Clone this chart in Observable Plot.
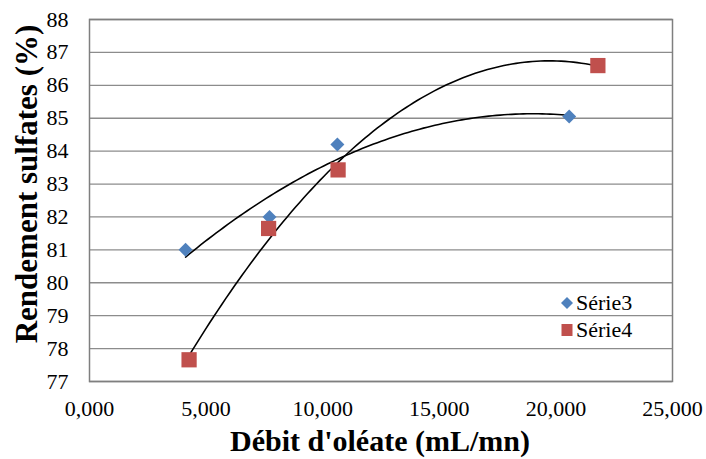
<!DOCTYPE html>
<html>
<head>
<meta charset="utf-8">
<script src="https://cdn.jsdelivr.net/npm/d3@7"></script>
<script src="https://cdn.jsdelivr.net/npm/@observablehq/plot@0.6"></script>
<style>
  html, body { margin: 0; padding: 0; background: #fff; }
  #wrap { position: relative; width: 706px; height: 459px; }
  .title { position: absolute; font-weight: bold; color: #000; white-space: nowrap; line-height: 1; }
  #xtitle { font-size: 30px; left: 0; width: 760px; text-align: center; top: 426px; }
  #ytitle { font-size: 31px; left: 26px; top: 184px; transform: translate(-50%, -50%) rotate(-90deg); }
  #legend { position: absolute; left: 560px; top: 289px; font-size: 22px; color: #000; }
  #legend div { display: flex; align-items: center; height: 27px; }
  #legend svg { margin-right: 2px; }
</style>
</head>
<body style="font-family:'Liberation Serif'">
<div id="wrap" style="font-family:'Liberation Serif'"></div>
<script>
// Data (x in thousands of mL/mn, French decimal comma)
const seriesNames = ["Série3", "Série4"];
const serie3X = [4.12, 7.72, 10.63, 20.57];
const serie3Y = [81.0, 82.0, 84.2, 85.05];
const serie4X = [4.27, 7.68, 10.66, 21.8];
const serie4Y = [77.66, 81.65, 83.43, 86.6];
const xTicks = [0, 5, 10, 15, 20, 25];
const xTickLabels = ["0,000", "5,000", "10,000", "15,000", "20,000", "25,000"];
const yTicks = [77, 78, 79, 80, 81, 82, 83, 84, 85, 86, 87, 88];
const xTitle = "Débit d'oléate (mL/mn)";
const yTitle = "Rendement sulfates (%)";
const colors = ["#4F81BD", "#C0504D"];
const FONT = "'Liberation Serif'";

const points = [
  ...serie3X.map((x, i) => ({series: seriesNames[0], x, y: serie3Y[i]})),
  ...serie4X.map((x, i) => ({series: seriesNames[1], x, y: serie4Y[i]}))
];

// Polynomial (order 2) trendline, least squares, as in the spreadsheet
function quadFit(xs, ys) {
  const n = xs.length;
  let s = [0,0,0,0,0], t = [0,0,0];
  for (let i = 0; i < n; i++) {
    const x = xs[i], y = ys[i];
    for (let k = 0; k < 5; k++) s[k] += x ** k;
    for (let k = 0; k < 3; k++) t[k] += y * x ** k;
  }
  const A = [[s[0], s[1], s[2], t[0]], [s[1], s[2], s[3], t[1]], [s[2], s[3], s[4], t[2]]];
  for (let c = 0; c < 3; c++) {
    for (let r = c + 1; r < 3; r++) {
      const f = A[r][c] / A[c][c];
      for (let k = c; k < 4; k++) A[r][k] -= f * A[c][k];
    }
  }
  const b = [0,0,0];
  for (let r = 2; r >= 0; r--) {
    let v = A[r][3];
    for (let k = r + 1; k < 3; k++) v -= A[r][k] * b[k];
    b[r] = v / A[r][r];
  }
  return x => b[0] + b[1] * x + b[2] * x * x;
}
function trend(name, xs, ys) {
  const f = quadFit(xs, ys);
  const [lo, hi] = d3.extent(xs);
  return d3.range(0, 101).map(i => { const x = lo + (hi - lo) * i / 100; return {series: name, x, y: f(x)}; });
}
const trendData = [...trend(seriesNames[0], serie3X, serie3Y), ...trend(seriesNames[1], serie4X, serie4Y)];

const chart = Plot.plot({
  width: 706,
  height: 459,
  marginLeft: 89,
  marginRight: 34,
  marginTop: 19,
  marginBottom: 78,
  style: {fontFamily: "Liberation Serif", fontSize: "22px", color: "#000", background: "#fff"},
  x: {domain: [0, 25], ticks: xTicks, tickFormat: (d, i) => xTickLabels[i], tickSize: 0, tickPadding: 19, label: null},
  y: {domain: [77, 88], ticks: yTicks, tickSize: 0, tickPadding: 21, label: null},
  marks: [
    Plot.gridY(yTicks, {stroke: "#8c8c8c", strokeOpacity: 1, strokeWidth: 1.3}),
    Plot.frame({stroke: "#7f7f7f", strokeWidth: 1.5}),
    Plot.line(trendData, {x: "x", y: "y", z: "series", stroke: "#000", strokeWidth: 1.6}),
    Plot.dot(points.filter(d => d.series === seriesNames[0]), {x: "x", y: "y", symbol: "diamond2", r: 6.3, fill: colors[0], stroke: "none"}),
    Plot.dot(points.filter(d => d.series === seriesNames[1]), {x: "x", y: "y", symbol: "square", r: 8.6, fill: colors[1], stroke: "none"})
  ]
});

const wrap = document.getElementById("wrap");
wrap.appendChild(chart);
chart.setAttribute("font-family", "Liberation Serif");
chart.querySelectorAll("g, text").forEach(el => { el.setAttribute("font-family", "Liberation Serif"); el.style.fontFamily = FONT; });

function addTitle(id, text) {
  const el = document.createElement("div");
  el.id = id; el.className = "title"; el.textContent = text;
  el.style.fontFamily = FONT;
  wrap.appendChild(el);
}
addTitle("xtitle", xTitle);
addTitle("ytitle", yTitle);

const legend = document.createElement("div");
legend.id = "legend";
legend.style.fontFamily = FONT;
const shapes = [
  '<svg width="14" height="14" viewBox="-7 -7 14 14"><path d="M0,-6L6,0L0,6L-6,0Z" fill="' + colors[0] + '"/></svg>',
  '<svg width="14" height="14" viewBox="-7 -7 14 14"><rect x="-5.5" y="-6" width="11" height="12" fill="' + colors[1] + '"/></svg>'
];
seriesNames.forEach((name, i) => {
  const row = document.createElement("div");
  row.innerHTML = shapes[i];
  const span = document.createElement("span");
  span.textContent = name;
  span.style.fontFamily = FONT;
  row.appendChild(span);
  legend.appendChild(row);
});
wrap.appendChild(legend);
</script>
</body>
</html>
